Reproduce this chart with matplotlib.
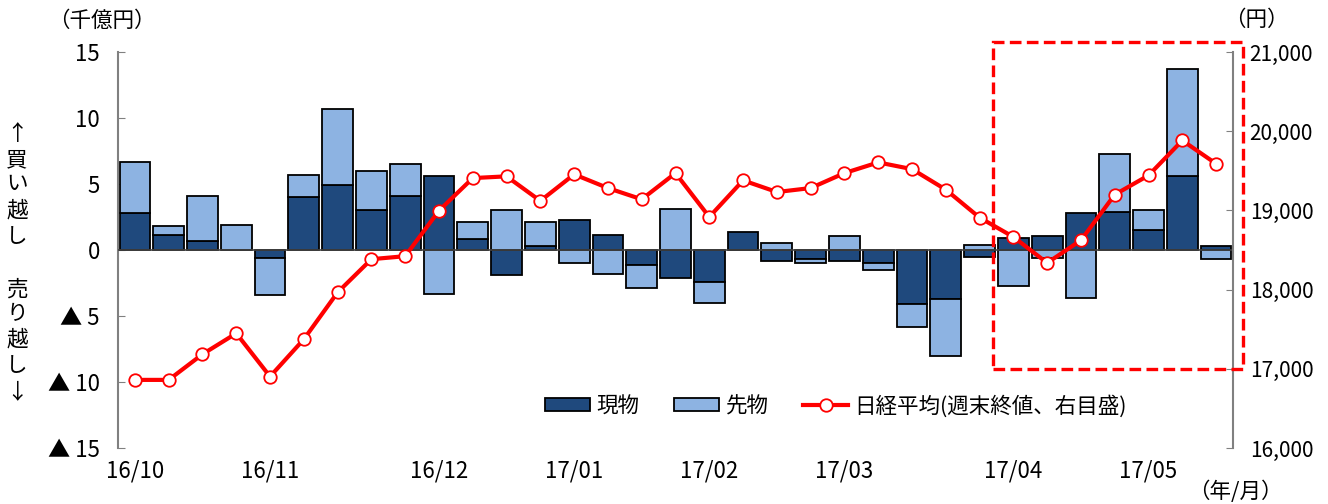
import numpy as np
import matplotlib
matplotlib.use("Agg")
import matplotlib.pyplot as plt
from matplotlib.patches import Rectangle
from matplotlib.lines import Line2D
from matplotlib.ticker import FuncFormatter

plt.rcParams['font.family'] = ['Noto Sans CJK JP', 'DejaVu Sans']

# weekly net buying by foreign investors (100 bn yen)
genbutsu = [2.8, 1.1, 0.7, 0.0, -0.6, 4.0, 4.9, 3.0, 4.1, 5.6, 0.8, -1.9, 0.3,
            2.3, 1.1, -1.1, -2.1, -2.4, 1.4, -0.8, -0.7, -0.8, -1.0, -4.1, -3.7,
            -0.5, 0.9, 1.05, 2.8, 2.85, 1.55, 5.6, 0.3]
sakimono = [3.9, 0.7, 3.4, 1.9, -2.8, 1.7, 5.8, 3.0, 2.4, -3.35, 1.3, 3.0, 1.8,
            -1.0, -1.8, -1.8, 3.1, -1.6, 0.0, 0.55, -0.25, 1.05, -0.5, -1.7, -4.35,
            0.35, -2.7, -0.6, -3.65, 4.45, 1.45, 8.1, -0.65]
# Nikkei 225, weekly close
nikkei = [16860, 16860, 17184, 17448, 16902, 17373, 17965, 18384, 18422, 18997,
          19408, 19430, 19120, 19455, 19282, 19140, 19471, 18917, 19379, 19232,
          19282, 19471, 19606, 19521, 19262, 18909, 18665, 18337, 18623, 19199,
          19442, 19883, 19589]
month_pos = [0, 4, 9, 13, 17, 21, 26, 30]
month_labels = ['16/10', '16/11', '16/12', '17/01', '17/02', '17/03', '17/04', '17/05']
left_ticks = [15, 10, 5, 0, -5, -10, -15]
left_labels = ['15', '10', '5', '0', '▲ 5', '▲ 10', '▲ 15']

dark = '#1f497d'
light = '#8db3e2'
red = '#ff0000'

g = np.array(genbutsu)
s = np.array(sakimono)
x = np.arange(len(g))
# stack same-sign values, opposite signs start from zero
same = np.sign(g) == np.sign(s)
s_bottom = np.where(same, g, 0.0)

fig = plt.figure(figsize=(13.28, 5.04), dpi=100)
ax = fig.add_axes([118 / 1328, 1 - 448 / 504, (1233 - 118) / 1328, (448 - 52) / 504])

ax.bar(x, g, width=0.91, color=dark, edgecolor='black', linewidth=1.3, zorder=2)
ax.bar(x, s, bottom=s_bottom, width=0.91, color=light, edgecolor='black', linewidth=1.3, zorder=2)
ax.axhline(0, color='#444444', linewidth=1.2, zorder=3)

ax.set_xlim(-0.5, 32.5)
ax.set_ylim(-15, 15)
ax.set_yticks(left_ticks)
ax.set_yticklabels(left_labels)
ax.tick_params(axis='y', direction='in', length=5, color='#808080', pad=13, labelsize=16)
ax.set_xticks(month_pos)
ax.set_xticklabels(month_labels)
ax.tick_params(axis='x', length=0, pad=8, labelsize=16)
for side in ['top', 'right', 'bottom']:
    ax.spines[side].set_visible(False)
ax.spines['left'].set_color('#808080')
ax.spines['left'].set_linewidth(1.5)

ax2 = ax.twinx()
ax2.plot(x, nikkei, color=red, linewidth=3, marker='o', markersize=9,
         markerfacecolor='white', markeredgecolor=red, markeredgewidth=1.3, zorder=5)
ax2.set_ylim(16000, 21000)
ax2.set_yticks(range(16000, 21001, 1000))
ax2.yaxis.set_major_formatter(FuncFormatter(lambda v, p: f'{int(v):,}'))
ax2.tick_params(axis='y', direction='in', length=5, color='#808080', pad=12, labelsize=15)
for side in ['top', 'left', 'bottom']:
    ax2.spines[side].set_visible(False)
ax2.spines['right'].set_color('#808080')
ax2.spines['right'].set_linewidth(1.5)

# highlight box around the latest weeks
box = Rectangle((25.4, 17000), 7.4, 4130, fill=False, edgecolor=red, linewidth=2.4,
                linestyle=(0, (3.5, 1.6)), clip_on=False, zorder=6)
ax2.add_patch(box)

handles = [Rectangle((0, 0), 1, 1, facecolor=dark, edgecolor='black', linewidth=1.3),
           Rectangle((0, 0), 1, 1, facecolor=light, edgecolor='black', linewidth=1.3),
           Line2D([], [], color=red, linewidth=3, marker='o', markersize=9,
                  markerfacecolor='white', markeredgecolor=red, markeredgewidth=1.3)]
fig.legend(handles, ['現物', '先物', '日経平均(週末終値、右目盛)'],
           loc='center', bbox_to_anchor=(836 / 1328, 1 - 406 / 504), ncol=3,
           frameon=False, fontsize=15.5, handlelength=2.1, handleheight=0.55,
           handletextpad=0.3, columnspacing=1.6)

fig.text(102 / 1328, 1 - 21 / 504, '（千億円）', fontsize=15.5, ha='center', va='center')
fig.text(1256 / 1328, 1 - 20 / 504, '（円）', fontsize=15.5, ha='center', va='center')
fig.text(1235 / 1328, 1 - 492 / 504, '（年/月）', fontsize=15.5, ha='center', va='center')

side_chars = ['↑', '買', 'い', '越', 'し', '売', 'り', '越', 'し', '↓']
side_y = [134, 160, 184, 210, 236, 290, 314, 340, 365, 392]
for ch, yy in zip(side_chars, side_y):
    fig.text(17 / 1328, 1 - yy / 504, ch, fontsize=15.5, ha='center', va='center')

fig.savefig('out.png', dpi=100)
